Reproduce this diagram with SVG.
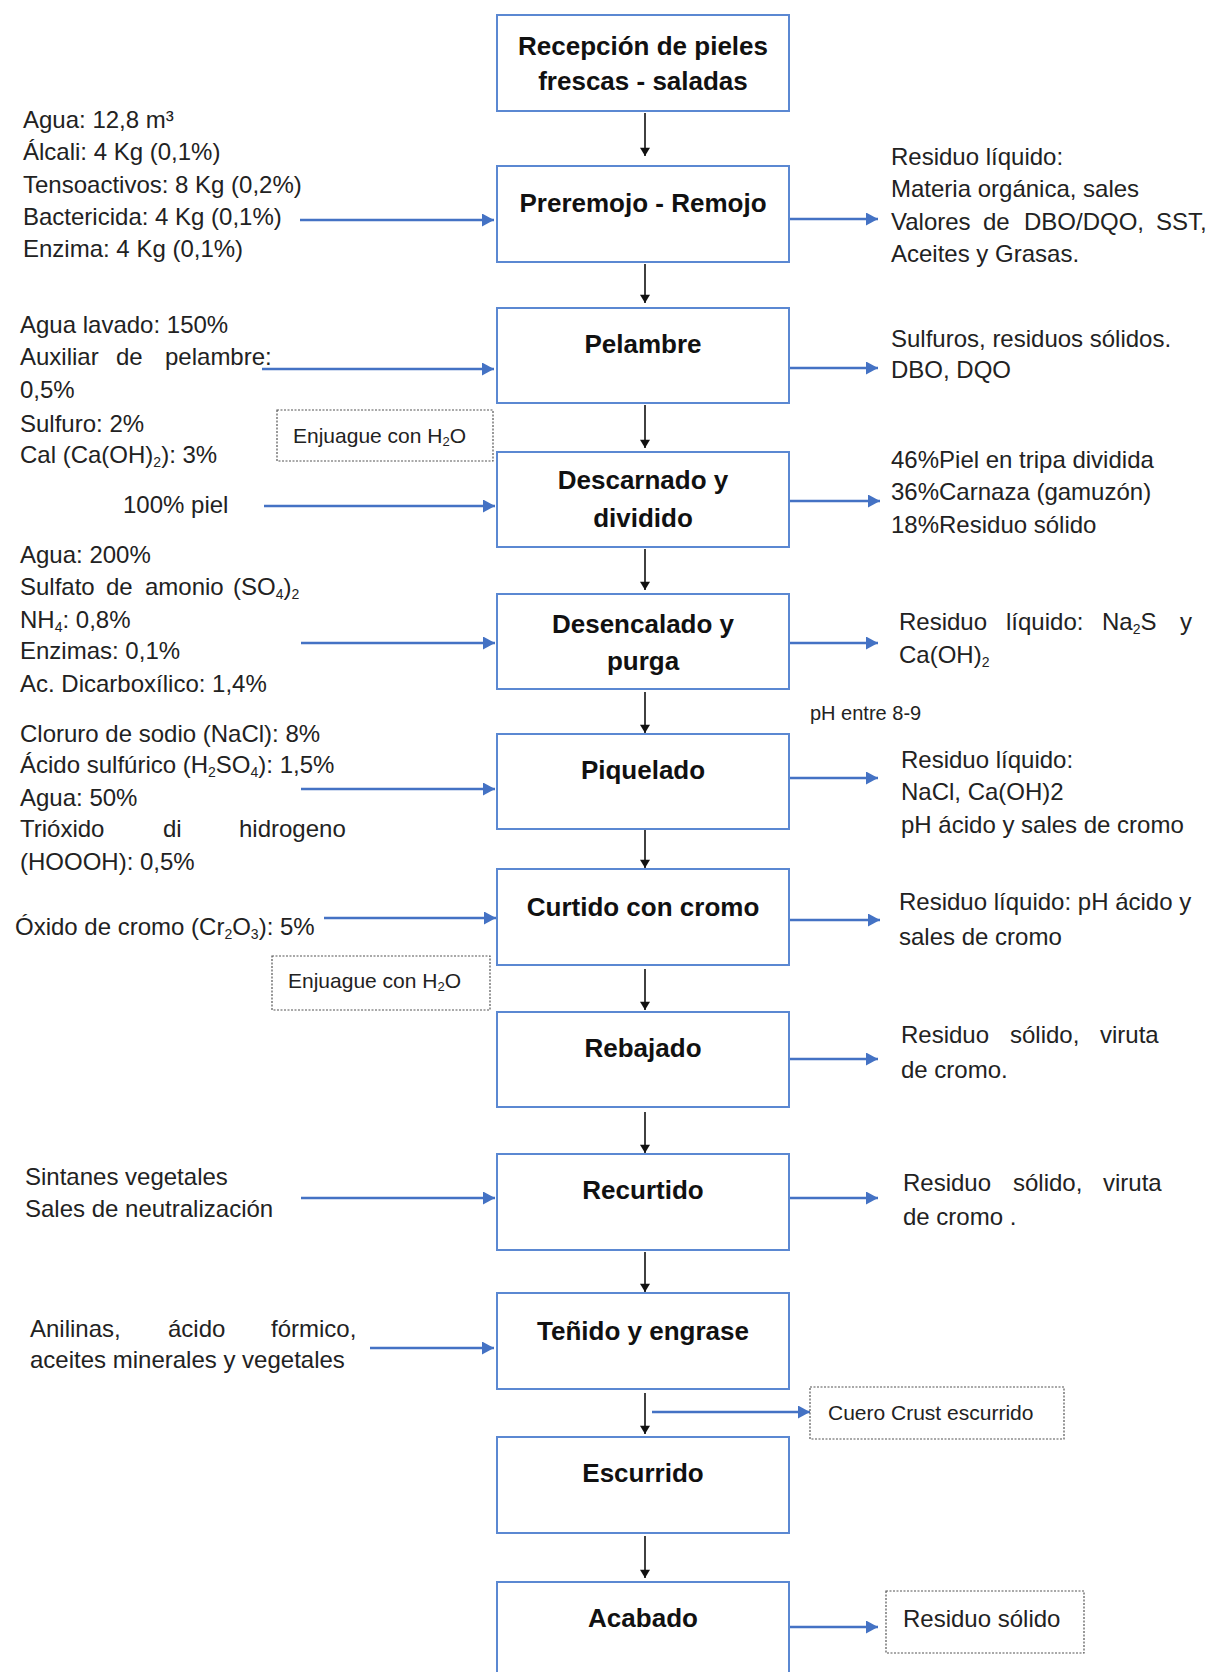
<svg xmlns="http://www.w3.org/2000/svg" width="1214" height="1672" viewBox="0 0 1214 1672">
<style>
.box{fill:#fff;stroke:#5b88d2;stroke-width:2}
.dbox{fill:#fff;stroke:#555;stroke-width:1.2;stroke-dasharray:2 1.5}
.bt{font-family:"Liberation Sans",Arial,sans-serif;font-weight:bold;font-size:26px;fill:#111;text-anchor:middle}
.t{font-family:"Liberation Sans",Arial,sans-serif;font-size:24px;fill:#222}
.ts{font-family:"Liberation Sans",Arial,sans-serif;font-size:21px;fill:#222}
.tp{font-family:"Liberation Sans",Arial,sans-serif;font-size:20px;fill:#222}
.blk{stroke:#111;stroke-width:1.6;fill:none;marker-end:url(#ah)}
.blu{stroke:#4472c4;stroke-width:2.5;fill:none;marker-end:url(#bh)}
</style>
<defs>
<marker id="ah" viewBox="0 0 10 12" refX="10" refY="6" markerWidth="12" markerHeight="10" markerUnits="userSpaceOnUse" orient="auto">
<path d="M0,0 L10,6 L0,12 z" fill="#111"/>
</marker>
<marker id="bh" viewBox="0 0 12 13" refX="12" refY="6.5" markerWidth="12" markerHeight="13" markerUnits="userSpaceOnUse" orient="auto">
<path d="M0,0 L12,6.5 L0,13 z" fill="#4472c4"/>
</marker>
</defs>
<rect width="1214" height="1672" fill="#fff"/>

<g id="connectors">
<line class="blk" x1="645" y1="113" x2="645" y2="156"/>
<line class="blk" x1="645" y1="264" x2="645" y2="303"/>
<line class="blk" x1="645" y1="405" x2="645" y2="448"/>
<line class="blk" x1="645" y1="549" x2="645" y2="590"/>
<line class="blk" x1="645" y1="692" x2="645" y2="733"/>
<line class="blk" x1="645" y1="830" x2="645" y2="868"/>
<line class="blk" x1="645" y1="969" x2="645" y2="1010"/>
<line class="blk" x1="645" y1="1112" x2="645" y2="1153"/>
<line class="blk" x1="645" y1="1252" x2="645" y2="1292"/>
<line class="blk" x1="645" y1="1393" x2="645" y2="1434"/>
<line class="blk" x1="645" y1="1536" x2="645" y2="1578"/>

<line class="blu" x1="300" y1="220" x2="494" y2="220"/>
<line class="blu" x1="262" y1="369" x2="494" y2="369"/>
<line class="blu" x1="264" y1="506" x2="495" y2="506"/>
<line class="blu" x1="301" y1="643" x2="495" y2="643"/>
<line class="blu" x1="301" y1="789" x2="495" y2="789"/>
<line class="blu" x1="324" y1="918" x2="496" y2="918"/>
<line class="blu" x1="301" y1="1198" x2="495" y2="1198"/>
<line class="blu" x1="370" y1="1348" x2="494" y2="1348"/>

<line class="blu" x1="790" y1="219" x2="878" y2="219"/>
<line class="blu" x1="790" y1="368" x2="878" y2="368"/>
<line class="blu" x1="790" y1="501" x2="880" y2="501"/>
<line class="blu" x1="790" y1="643" x2="878" y2="643"/>
<line class="blu" x1="790" y1="778" x2="878" y2="778"/>
<line class="blu" x1="790" y1="920" x2="880" y2="920"/>
<line class="blu" x1="790" y1="1059" x2="878" y2="1059"/>
<line class="blu" x1="790" y1="1198" x2="878" y2="1198"/>
<line class="blu" x1="652" y1="1412" x2="810" y2="1412"/>
<line class="blu" x1="790" y1="1627" x2="878" y2="1627"/>
</g>

<g id="n1"><rect class="box" x="497" y="15" width="292" height="96"/>
<text class="bt" x="643" y="55">Recepción de pieles</text><text class="bt" x="643" y="90">frescas - saladas</text></g>
<g id="n2"><rect class="box" x="497" y="166" width="292" height="96"/>
<text class="bt" x="643" y="212">Preremojo - Remojo</text></g>
<g id="n3"><rect class="box" x="497" y="308" width="292" height="95"/>
<text class="bt" x="643" y="353">Pelambre</text></g>
<g id="n4"><rect class="box" x="497" y="452" width="292" height="95"/>
<text class="bt" x="643" y="489">Descarnado y</text><text class="bt" x="643" y="527">dividido</text></g>
<g id="n5"><rect class="box" x="497" y="594" width="292" height="95"/>
<text class="bt" x="643" y="633">Desencalado y</text><text class="bt" x="643" y="670">purga</text></g>
<g id="n6"><rect class="box" x="497" y="734" width="292" height="95"/>
<text class="bt" x="643" y="779">Piquelado</text></g>
<g id="n7"><rect class="box" x="497" y="869" width="292" height="96"/>
<text class="bt" x="643" y="916">Curtido con cromo</text></g>
<g id="n8"><rect class="box" x="497" y="1012" width="292" height="95"/>
<text class="bt" x="643" y="1057">Rebajado</text></g>
<g id="n9"><rect class="box" x="497" y="1154" width="292" height="96"/>
<text class="bt" x="643" y="1199">Recurtido</text></g>
<g id="n10"><rect class="box" x="497" y="1293" width="292" height="96"/>
<text class="bt" x="643" y="1340">Teñido y engrase</text></g>
<g id="n11"><rect class="box" x="497" y="1437" width="292" height="96"/>
<text class="bt" x="643" y="1482">Escurrido</text></g>
<g id="n12"><rect class="box" x="497" y="1582" width="292" height="100"/>
<text class="bt" x="643" y="1627">Acabado</text></g>

<g id="enjuague1"><rect class="dbox" x="277" y="410" width="216" height="51"/>
<text class="ts" x="293" y="443">Enjuague con H<tspan font-size="13" dy="3">2</tspan><tspan dy="-3">O</tspan></text></g>
<g id="enjuague2"><rect class="dbox" x="272" y="956" width="218" height="54"/>
<text class="ts" x="288" y="988">Enjuague con H<tspan font-size="13" dy="3">2</tspan><tspan dy="-3">O</tspan></text></g>
<g id="crust"><rect class="dbox" x="810" y="1387" width="254" height="52"/>
<text class="ts" x="828" y="1420">Cuero Crust escurrido</text></g>
<g id="solido"><rect class="dbox" x="886" y="1591" width="198" height="62"/>
<text class="t" x="903" y="1627">Residuo sólido</text></g>

<g id="inputs">
<text class="t" x="23" y="128">Agua: 12,8 m³</text>
<text class="t" x="23" y="160">Álcali: 4 Kg (0,1%)</text>
<text class="t" x="23" y="193">Tensoactivos: 8 Kg (0,2%)</text>
<text class="t" x="23" y="225">Bactericida: 4 Kg (0,1%)</text>
<text class="t" x="23" y="257">Enzima: 4 Kg (0,1%)</text>

<text class="t" x="20" y="333">Agua lavado: 150%</text>
<text class="t" y="365"><tspan x="20">Auxiliar</tspan><tspan x="116">de</tspan><tspan x="165">pelambre:</tspan></text>
<text class="t" x="20" y="398">0,5%</text>
<text class="t" x="20" y="432">Sulfuro: 2%</text>
<text class="t" x="20" y="463">Cal (Ca(OH)<tspan font-size="14" dy="4">2</tspan><tspan dy="-4">): 3%</tspan></text>

<text class="t" x="123" y="513">100% piel</text>

<text class="t" x="20" y="563">Agua: 200%</text>
<text class="t" y="595"><tspan x="20">Sulfato</tspan><tspan x="106">de</tspan><tspan x="145">amonio</tspan><tspan x="233">(SO</tspan><tspan font-size="14" dy="4">4</tspan><tspan dy="-4">)</tspan><tspan font-size="14" dy="4">2</tspan></text>
<text class="t" x="20" y="628">NH<tspan font-size="14" dy="4">4</tspan><tspan dy="-4">: 0,8%</tspan></text>
<text class="t" x="20" y="659">Enzimas: 0,1%</text>
<text class="t" x="20" y="692">Ac. Dicarboxílico: 1,4%</text>

<text class="t" x="20" y="742">Cloruro de sodio (NaCl): 8%</text>
<text class="t" x="20" y="773">Ácido sulfúrico (H<tspan font-size="14" dy="4">2</tspan><tspan dy="-4">SO</tspan><tspan font-size="14" dy="4">4</tspan><tspan dy="-4">): 1,5%</tspan></text>
<text class="t" x="20" y="806">Agua: 50%</text>
<text class="t" y="837"><tspan x="20">Trióxido</tspan><tspan x="163">di</tspan><tspan x="239">hidrogeno</tspan></text>
<text class="t" x="20" y="870">(HOOOH): 0,5%</text>

<text class="t" x="15" y="935">Óxido de cromo (Cr<tspan font-size="14" dy="4">2</tspan><tspan dy="-4">O</tspan><tspan font-size="14" dy="4">3</tspan><tspan dy="-4">): 5%</tspan></text>

<text class="t" x="25" y="1185">Sintanes vegetales</text>
<text class="t" x="25" y="1217">Sales de neutralización</text>

<text class="t" y="1337"><tspan x="30">Anilinas,</tspan><tspan x="168">ácido</tspan><tspan x="271">fórmico,</tspan></text>
<text class="t" x="30" y="1368">aceites minerales y vegetales</text>
</g>

<g id="outputs">
<text class="t" x="891" y="165">Residuo líquido:</text>
<text class="t" x="891" y="197">Materia orgánica, sales</text>
<text class="t" y="230"><tspan x="891">Valores</tspan><tspan x="983">de</tspan><tspan x="1024">DBO/DQO,</tspan><tspan x="1156">SST,</tspan></text>
<text class="t" x="891" y="262">Aceites y Grasas.</text>

<text class="t" x="891" y="347">Sulfuros, residuos sólidos.</text>
<text class="t" x="891" y="378">DBO, DQO</text>

<text class="t" x="891" y="468">46%Piel en tripa dividida</text>
<text class="t" x="891" y="500">36%Carnaza (gamuzón)</text>
<text class="t" x="891" y="533">18%Residuo sólido</text>

<text class="t" y="630"><tspan x="899">Residuo</tspan><tspan x="1006">líquido:</tspan><tspan x="1102">Na</tspan><tspan font-size="14" dy="4">2</tspan><tspan dy="-4">S</tspan><tspan x="1180">y</tspan></text>
<text class="t" x="899" y="663">Ca(OH)<tspan font-size="14" dy="4">2</tspan></text>

<text class="tp" x="810" y="720">pH entre 8-9</text>

<text class="t" x="901" y="768">Residuo líquido:</text>
<text class="t" x="901" y="800">NaCl, Ca(OH)2</text>
<text class="t" x="901" y="833">pH ácido y sales de cromo</text>

<text class="t" x="899" y="910">Residuo líquido: pH ácido y</text>
<text class="t" x="899" y="945">sales de cromo</text>

<text class="t" y="1043"><tspan x="901">Residuo</tspan><tspan x="1010">sólido,</tspan><tspan x="1100">viruta</tspan></text>
<text class="t" x="901" y="1078">de cromo.</text>

<text class="t" y="1191"><tspan x="903">Residuo</tspan><tspan x="1013">sólido,</tspan><tspan x="1103">viruta</tspan></text>
<text class="t" x="903" y="1225">de cromo .</text>
</g>
</svg>
